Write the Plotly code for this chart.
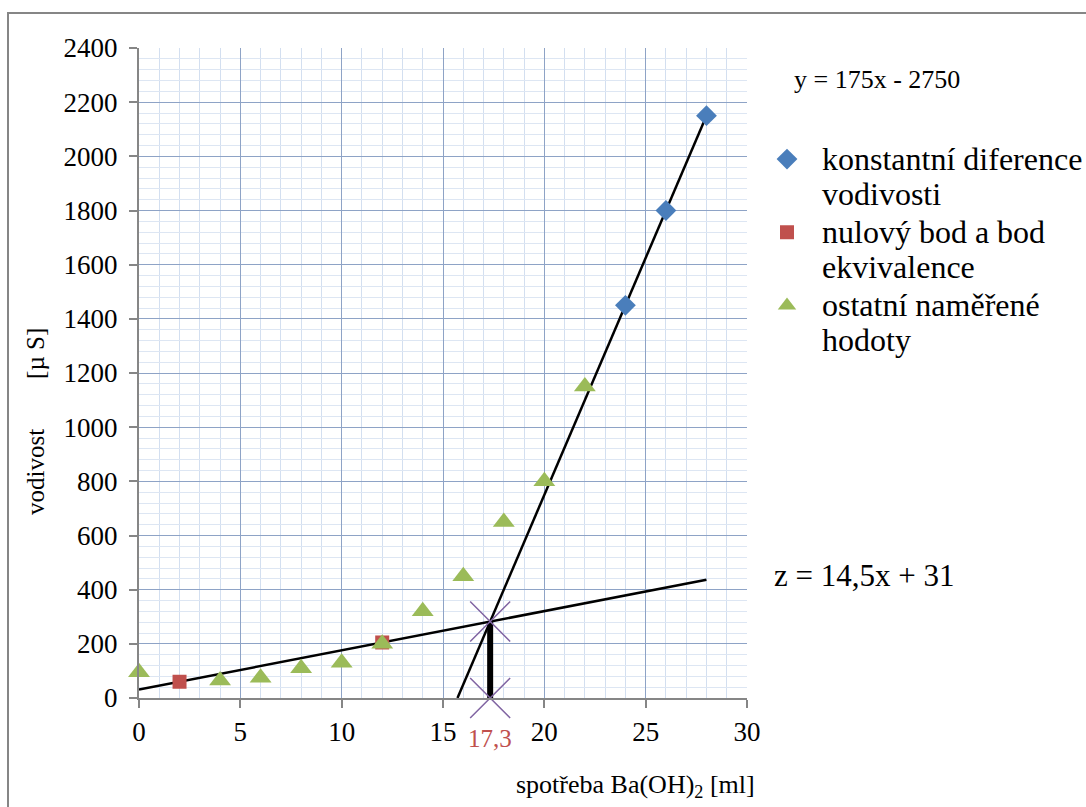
import plotly.graph_objects as go

# --- data ---
tri_x = [0, 4, 6, 8, 10, 12, 14, 16, 18, 20, 22]
tri_y = [95, 65, 75, 110, 130, 200, 320, 450, 650, 800, 1150]
sq_x = [2, 12]
sq_y = [60, 205]
dia_x = [24, 26, 28]
dia_y = [1450, 1800, 2150]

# regression lines: y = a*x + b
steep_a, steep_b = 175, -2750
flat_a, flat_b = 14.5, 31
line_end_x = 28

x_ticks = [0, 5, 10, 15, 20, 25, 30]
y_ticks = list(range(0, 2401, 200))

names_dia = ["konstantní diference", "vodivosti"]
names_sq = ["nulový bod a bod", "ekvivalence"]
names_tri = ["ostatní naměřené", "hodoty"]

# derived
x_start_steep = -steep_b / steep_a
x_eq = (flat_b - steep_b) / (steep_a - flat_a)
y_eq = flat_a * x_eq + flat_b

FONT = "Liberation Serif"


def legend_name(lines, px=32):
    return "<br>".join(f'<span style="font-size:{px}px">{s}</span>' for s in lines)


fig = go.Figure()

# fit lines
fig.add_trace(go.Scatter(
    x=[x_start_steep, line_end_x],
    y=[steep_a * x_start_steep + steep_b, steep_a * line_end_x + steep_b],
    mode="lines", line=dict(color="black", width=2.5),
    showlegend=False, hoverinfo="skip"))
fig.add_trace(go.Scatter(
    x=[0, line_end_x],
    y=[flat_b, flat_a * line_end_x + flat_b],
    mode="lines", line=dict(color="black", width=2.5),
    showlegend=False, hoverinfo="skip"))

# vertical thick line at equivalence
fig.add_trace(go.Scatter(
    x=[x_eq, x_eq], y=[0, y_eq],
    mode="lines", line=dict(color="black", width=6),
    showlegend=False, hoverinfo="skip"))

# data markers
fig.add_trace(go.Scatter(
    x=dia_x, y=dia_y, mode="markers", name=legend_name(names_dia),
    marker=dict(symbol="diamond", size=16, color="#4a7ebb"), cliponaxis=False))
fig.add_trace(go.Scatter(
    x=sq_x, y=sq_y, mode="markers", name=legend_name(names_sq),
    marker=dict(symbol="square", size=14, color="#c0504d"), cliponaxis=False))
fig.add_trace(go.Scatter(
    x=tri_x, y=tri_y, mode="markers", name=legend_name(names_tri),
    marker=dict(symbol="triangle-up", size=19, color="#9bbb59"), cliponaxis=False))

# purple X markers
fig.add_trace(go.Scatter(
    x=[x_eq, x_eq], y=[y_eq, 0], mode="markers",
    marker=dict(symbol="x-thin-open", size=40, color="#8064a2",
                line=dict(color="#8064a2", width=1.5)),
    showlegend=False, hoverinfo="skip", cliponaxis=False))

fig.update_xaxes(
    range=[0, 30], tickvals=x_ticks, ticktext=[str(v) for v in x_ticks],
    showline=True, linecolor="#868686", linewidth=2,
    ticks="outside", ticklen=8, tickcolor="#868686", tickwidth=2,
    tickfont=dict(family=FONT, size=27, color="black"),
    ticklabelstandoff=1,
    showgrid=True, gridcolor="#8ea3c6", gridwidth=1,
    minor=dict(dtick=1, tick0=0, showgrid=True, gridcolor="#d3dff0", gridwidth=1, ticks=""),
    zeroline=False, mirror=False, automargin=False)
fig.update_yaxes(
    range=[0, 2400], tickvals=y_ticks, ticktext=[str(v) for v in y_ticks],
    showline=True, linecolor="#868686", linewidth=2,
    ticks="outside", ticklen=8, tickcolor="#868686", tickwidth=2,
    tickfont=dict(family=FONT, size=27, color="black"),
    ticklabelstandoff=6,
    showgrid=True, gridcolor="#8ea3c6", gridwidth=1,
    minor=dict(dtick=40, tick0=0, showgrid=True, gridcolor="#dde6f3", gridwidth=1, ticks=""),
    zeroline=False, automargin=False)

L, R, T, B = 139, 339, 48, 109
W, H = 1086, 807
pw, ph = W - L - R, H - T - B


def px2paper_x(px):
    return (px - L) / pw


def px2paper_y(py):
    return (H - B - py) / ph


NB = "&nbsp;"
annotations = [
    dict(text="y = 175x - 2750", x=px2paper_x(792), y=px2paper_y(80), xref="paper", yref="paper",
         xanchor="left", yanchor="middle", showarrow=False,
         font=dict(family=FONT, size=26, color="black")),
    dict(text="z = 14,5x + 31", x=px2paper_x(772), y=px2paper_y(575), xref="paper", yref="paper",
         xanchor="left", yanchor="middle", showarrow=False,
         font=dict(family=FONT, size=31, color="black")),
    dict(text=f"{x_eq:.1f}".replace(".", ","), x=x_eq, y=px2paper_y(738), xref="x", yref="paper",
         xanchor="center", yanchor="middle", showarrow=False,
         font=dict(family=FONT, size=25, color="#c0504d")),
    dict(text="spotřeba Ba(OH)<sub>2</sub> [ml]", x=px2paper_x(635), y=px2paper_y(786), xref="paper", yref="paper",
         xanchor="center", yanchor="middle", showarrow=False,
         font=dict(family=FONT, size=26, color="black")),
    dict(text="vodivost" + NB * 8 + "[µ S]", x=px2paper_x(35), y=px2paper_y(422), xref="paper", yref="paper",
         xanchor="center", yanchor="middle", showarrow=False, textangle=-90,
         font=dict(family=FONT, size=25, color="black")),
]

shapes = [
    dict(type="rect", xref="paper", yref="paper",
         x0=px2paper_x(8), y0=px2paper_y(820), x1=px2paper_x(1100), y1=px2paper_y(13),
         line=dict(color="#868686", width=2), fillcolor="rgba(0,0,0,0)", layer="below"),
]

fig.update_layout(
    width=W, height=H,
    margin=dict(l=L, r=R, t=T, b=B, autoexpand=False),
    paper_bgcolor="white", plot_bgcolor="white",
    annotations=annotations, shapes=shapes,
    legend=dict(x=px2paper_x(752), y=px2paper_y(135), xanchor="left", yanchor="top",
                font=dict(family=FONT, size=27, color="black"),
                valign="top", bgcolor="rgba(0,0,0,0)", tracegroupgap=0,
                itemwidth=60),
    font=dict(family=FONT),
)

fig.write_html("out.html", config={"displayModeBar": False},
               post_script="document.body.style.margin='0';")
